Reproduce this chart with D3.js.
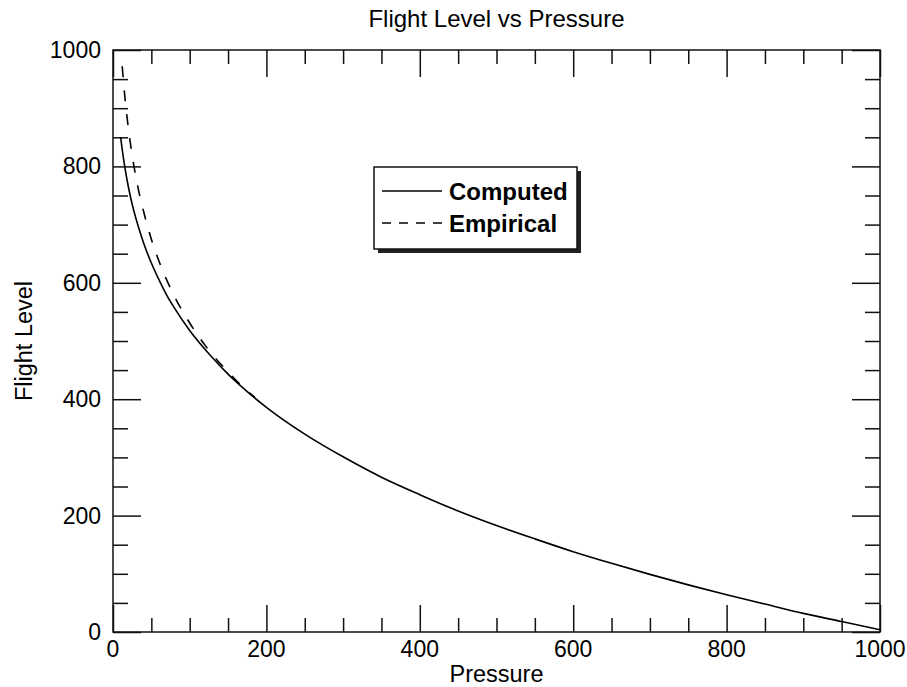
<!DOCTYPE html>
<html>
<head>
<meta charset="utf-8">
<script src="https://cdn.jsdelivr.net/npm/d3@7"></script>
<style>
  body { margin: 0; background: #fff; }
  text { font-family: "Liberation Sans", Arial, Helvetica, sans-serif; fill: #000; }
</style>
</head>
<body>
<script>
// Computed curve
var pressureComputed = [10, 12, 15, 20, 25, 30, 35, 40, 50, 60, 70, 80, 100, 125, 150, 175, 200,
  250, 300, 350, 400, 450, 500, 550, 600, 650, 700, 750, 800, 850, 900, 950, 1000];
var levelComputed = [850, 829, 802, 765, 735, 710, 688, 668, 634, 605, 579, 557, 518, 478, 443, 413, 386,
  340, 301, 266, 236, 208, 183, 160, 138, 118, 99, 81, 64, 48, 32, 18, 4];

// Empirical curve (dashed, only the low-pressure end)
var pressureEmpirical = [12, 15, 20, 25, 30, 35, 40, 50, 60, 70, 80, 100, 125, 150, 175, 185];
var levelEmpirical = [972, 926, 866, 819, 781, 749, 722, 675, 637, 605, 577, 531, 484, 447, 414, 403];

var xTicks = [0, 200, 400, 600, 800, 1000];
var yTicks = [0, 200, 400, 600, 800, 1000];
var legendNames = ["Computed", "Empirical"];

//Width and height
var w = 907;
var h = 687;
var margin = { left: 113, top: 50, right: 27, bottom: 55 };
var pw = w - margin.left - margin.right;
var ph = h - margin.top - margin.bottom;

var svg = d3.select("body").append("svg")
    .attr("width", w)
    .attr("height", h);

var x = d3.scaleLinear().domain([0, 1000]).range([0, pw]);
var y = d3.scaleLinear().domain([0, 1000]).range([ph, 0]);

var g = svg.append("g").attr("transform", "translate(" + margin.left + "," + margin.top + ")");

// minor ticks every 50, major every 200, pointing inward on all four sides
var minor = d3.range(0, 1001, 50).filter(function (v) { return v % 200 !== 0; });

function styleAxis(sel) {
    sel.select(".domain").remove();
    sel.selectAll("line").attr("stroke", "#111").attr("stroke-width", 1.5);
    sel.selectAll("text").remove();
}

function addAxis(axisFn, scale, tr, majors, minorLen, majorLen) {
    g.append("g").attr("transform", tr)
        .call(axisFn(scale).tickValues(minor).tickSize(minorLen).tickFormat(""))
        .call(styleAxis);
    g.append("g").attr("transform", tr)
        .call(axisFn(scale).tickValues(majors).tickSize(majorLen).tickFormat(""))
        .call(styleAxis);
}
addAxis(d3.axisTop, x, "translate(0," + ph + ")", xTicks, 14, 27);
addAxis(d3.axisBottom, x, "translate(0,0)", xTicks, 14, 27);
addAxis(d3.axisRight, y, "translate(0,0)", yTicks, 15, 28);
addAxis(d3.axisLeft, y, "translate(" + pw + ",0)", yTicks, 15, 28);

// frame
g.append("rect")
    .attr("width", pw).attr("height", ph)
    .attr("fill", "none").attr("stroke", "#111").attr("stroke-width", 1.5);

// tick labels
g.selectAll(".xl").data(xTicks).enter().append("text")
    .attr("x", function (d) { return x(d); })
    .attr("y", ph + 25)
    .attr("text-anchor", "middle")
    .style("font-size", "23px")
    .text(function (d) { return d; });

g.selectAll(".yl").data(yTicks).enter().append("text")
    .attr("x", -12)
    .attr("y", function (d) { return y(d) + 8; })
    .attr("text-anchor", "end")
    .style("font-size", "23px")
    .text(function (d) { return d; });

// curves
var line = d3.line()
    .x(function (d) { return x(d[0]); })
    .y(function (d) { return y(d[1]); })
    .curve(d3.curveMonotoneX);

g.append("path")
    .datum(d3.zip(pressureComputed, levelComputed))
    .attr("fill", "none").attr("stroke", "#000").attr("stroke-width", 1.6)
    .attr("d", line);

g.append("path")
    .datum(d3.zip(pressureEmpirical, levelEmpirical))
    .attr("fill", "none").attr("stroke", "#000").attr("stroke-width", 1.6)
    .attr("stroke-dasharray", "11,13")
    .attr("d", line);

// titles
svg.append("text")
    .attr("x", margin.left + pw / 2).attr("y", 27)
    .attr("text-anchor", "middle").style("font-size", "24px")
    .text("Flight Level vs Pressure");

svg.append("text")
    .attr("x", margin.left + pw / 2).attr("y", 682)
    .attr("text-anchor", "middle").style("font-size", "23.5px")
    .text("Pressure");

svg.append("text")
    .attr("transform", "translate(32," + (margin.top + ph / 2) + ") rotate(-90)")
    .attr("text-anchor", "middle").style("font-size", "23.5px")
    .text("Flight Level");

// legend with drop shadow
var lg = svg.append("g").attr("transform", "translate(374,167)");
lg.append("rect").attr("x", 4).attr("y", 4).attr("width", 203).attr("height", 82).attr("fill", "#222");
lg.append("rect").attr("width", 203).attr("height", 82)
    .attr("fill", "#fff").attr("stroke", "#111").attr("stroke-width", 1.5);

var items = lg.selectAll(".item").data(legendNames).enter().append("g")
    .attr("transform", function (d, i) { return "translate(0," + (i === 0 ? 24 : 56) + ")"; });
items.append("line")
    .attr("x1", 8).attr("x2", 68).attr("y1", 0).attr("y2", 0)
    .attr("stroke", "#000").attr("stroke-width", 1.5)
    .attr("stroke-dasharray", function (d, i) { return i === 0 ? null : "9,8"; });
items.append("text")
    .attr("x", 75).attr("y", 9)
    .style("font-size", "24px").style("font-weight", "bold")
    .text(function (d) { return d; });
</script>
</body>
</html>
